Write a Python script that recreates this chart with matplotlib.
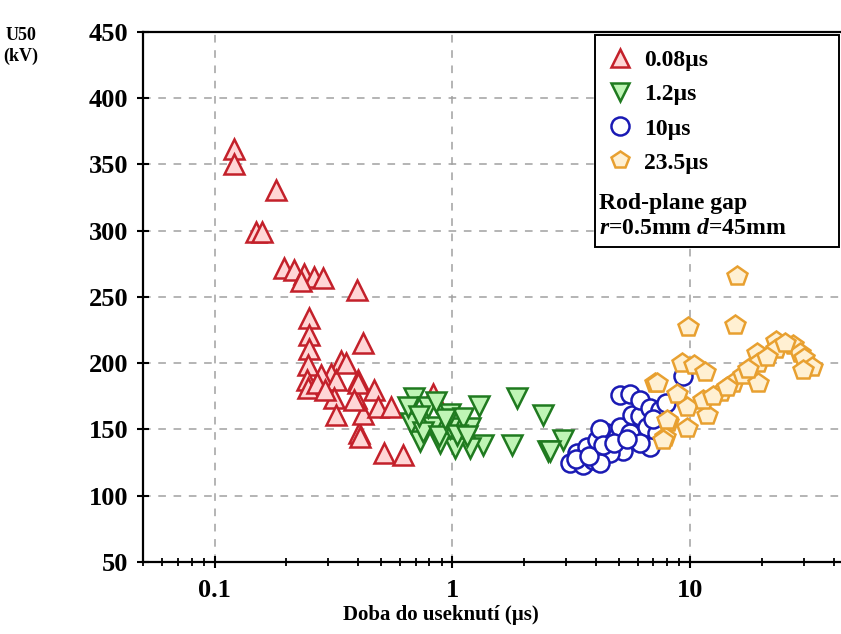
import matplotlib
matplotlib.use('Agg')
import matplotlib.pyplot as plt
from matplotlib.lines import Line2D
from matplotlib.patches import Rectangle

plt.rcParams['font.family'] = ['Liberation Serif', 'DejaVu Serif']
plt.rcParams['font.weight'] = 'bold'
plt.rcParams['mathtext.fontset'] = 'custom'
plt.rcParams['mathtext.rm'] = 'Liberation Serif:bold'
plt.rcParams['mathtext.it'] = 'Liberation Serif:italic:bold'

# ---- data ----
red_x = [0.121, 0.121, 0.181, 0.149, 0.159, 0.196, 0.216, 0.237, 0.262, 0.285, 0.231,
         0.396, 0.42, 0.249, 0.249, 0.249, 0.247, 0.245, 0.247, 0.339, 0.308, 0.28,
         0.323, 0.40, 0.317, 0.392, 0.323, 0.403, 0.42, 0.356, 0.40, 0.466, 0.385,
         0.485, 0.41, 0.514, 0.617, 0.83, 0.55, 0.27, 0.29]
red_y = [362, 350, 331, 299, 299, 272, 270, 267, 265, 264, 262,
         255, 215, 234, 221, 211, 199, 187, 181, 202, 192, 191,
         187, 187, 174, 174, 161, 147, 162, 200, 185, 180, 172,
         167, 144, 132, 131, 177, 167, 185, 180]

green_x = [1.87, 2.41, 1.78, 2.53, 2.92, 1.29, 1.19, 1.35, 1.19, 1.03, 0.89, 0.73,
           0.98, 0.83, 0.67, 0.69, 0.79, 0.98, 1.11, 0.65, 2.57, 6.96, 5.6, 0.75,
           0.88, 1.05, 0.93, 0.72, 0.85, 1.15]
green_y = [174, 161, 138, 134, 142, 168, 151, 138, 136, 136, 140, 141,
           151, 152, 155, 174, 167, 162, 159, 167, 134, 140, 141, 148,
           145, 146, 158, 160, 171, 145]

blue_x = [3.12, 3.54, 3.9, 3.34, 3.68, 4.05, 4.46, 4.17, 4.92, 5.06, 5.58, 5.2,
          4.6, 4.17, 5.69, 6.14, 5.06, 5.58, 6.14, 6.76, 6.56, 7.45, 7.23, 6.76,
          6.14, 3.3, 3.75, 4.3, 4.8, 5.4, 9.3, 7.0, 7.9]
blue_y = [125, 123, 127, 132, 137, 142, 147, 150, 144, 152, 147, 134,
          132, 125, 161, 160, 176, 177, 172, 166, 152, 165, 147, 137,
          140, 128, 130, 138, 140, 143, 190, 158, 170]

orange_x = [15.7, 9.78, 15.4, 9.2, 10.4, 11.5, 7.1, 8.8, 9.65, 11.7, 8.05, 9.65,
            7.8, 13.5, 15.1, 16.6, 19.0, 19.2, 19.2, 23.0, 23.0, 27.0, 28.9, 30.2,
            32.6, 29.7, 11.3, 7.25, 7.96, 7.67, 12.5, 14.2, 17.5, 21.0, 25.0]
orange_y = [266, 227, 229, 200, 199, 193, 185, 177, 167, 161, 156, 151,
            144, 178, 185, 191, 208, 200, 185, 217, 211, 214, 208, 204,
            197, 195, 172, 185, 157, 142, 175, 182, 196, 205, 215]

legend_labels = ['0.08\u00b5s', '1.2\u00b5s', '10\u00b5s', '23.5\u00b5s']
note_lines = ['Rod-plane gap', r'$\mathit{r}$=0.5mm $\mathit{d}$=45mm']

styles = [
    dict(marker='^', ms=15, mec='#c3202a', mfc='#ffd6d6'),
    dict(marker='v', ms=15, mec='#1f7a1f', mfc='#bff5b5'),
    dict(marker='o', ms=13, mec='#1a1ab4', mfc='white'),
    dict(marker='p', ms=15, mec='#e8a030', mfc='#fff0d2'),
]
series = [(red_x, red_y), (green_x, green_y), (blue_x, blue_y), (orange_x, orange_y)]

fig = plt.figure(figsize=(8.41, 6.34), dpi=100)
ax = fig.add_axes([0.170, 0.1136, 0.830, 0.836])

for (xs, ys), st in zip(series, styles):
    ax.plot(xs, ys, linestyle='none', mew=1.8, **st)

ax.set_xscale('log')
ax.set_xlim(0.05, 43)
ax.set_ylim(50, 450)
ax.set_yticks(range(50, 451, 50))
ax.set_xticks([0.1, 1, 10])
ax.set_xticklabels(['0.1', '1', '10'])

ax.grid(True, which='major', linestyle=(0, (5, 5)), color='#a0a0a0', linewidth=1.1)
ax.set_axisbelow(True)

ax.tick_params(axis='both', which='major', direction='inout', length=9, width=1.5,
               labelsize=19)
ax.tick_params(axis='x', which='minor', direction='inout', length=6, width=1.3)
ax.tick_params(axis='x', which='major', pad=8)
ax.tick_params(axis='y', which='major', pad=6)
for s in ['left', 'bottom', 'top']:
    ax.spines[s].set_linewidth(1.6)
ax.spines['right'].set_visible(False)

ax.set_xlabel('Doba do useknutí (\u00b5s)', fontsize=15, fontweight='bold')
ax.xaxis.set_label_coords(0.427, -0.082)
ax.set_ylabel('U50\n(kV)', fontsize=13, fontweight='bold', rotation=0,
              ha='center', va='top', linespacing=1.3)
ax.yaxis.set_label_coords(-0.175, 1.01)

# legend box frame
ax.add_patch(Rectangle((0.6476, 0.594), 0.35, 0.4003, transform=ax.transAxes,
                       facecolor='white', edgecolor='black', linewidth=1.4,
                       zorder=5, clip_on=False))

handles = [Line2D([], [], linestyle='none', mew=1.8, **st) for st in styles]
for h in handles:
    h.set_markersize(13)
leg = ax.legend(handles, legend_labels, loc='upper left', bbox_to_anchor=(0.655, 0.975),
                frameon=False, fontsize=17, handlelength=1.3, handletextpad=0.35,
                labelspacing=0.53, borderaxespad=0.0, borderpad=0.2)
leg.set_zorder(6)

ax.text(0.653, 0.6755, note_lines[0], transform=ax.transAxes, ha='left', va='center',
        fontsize=17, fontweight='bold', zorder=7)
ax.text(0.653, 0.630, note_lines[1], transform=ax.transAxes, ha='left', va='center',
        fontsize=17, fontweight='bold', zorder=7)

fig.savefig('out.png', dpi=100)
